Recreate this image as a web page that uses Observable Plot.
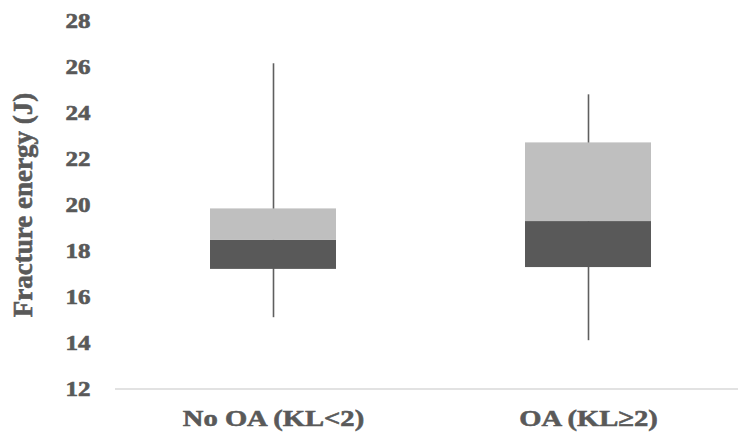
<!DOCTYPE html>
<html>
<head>
<meta charset="utf-8">
<script src="https://cdn.jsdelivr.net/npm/d3@7"></script>
<script src="https://cdn.jsdelivr.net/npm/@observablehq/plot@0.6"></script>
<style>
  html, body { margin: 0; padding: 0; background: #fff; }
  #chart svg { display: block; }
  #chart svg, #chart svg text { font-family: 'Liberation Serif', 'Times New Roman', serif !important; font-weight: 700 !important; }
  #chart svg text { stroke: #595959; stroke-width: 0.6px; }
</style>
</head>
<body>
<div id="chart"></div>
<script>
const categories = ["No OA (KL<2)", "OA (KL≥2)"];
const minValues = [15.1, 14.1];
const q1Values = [17.2, 17.28];
const medianValues = [18.46, 19.28];
const q3Values = [19.83, 22.7];
const maxValues = [26.14, 24.79];
const yTicks = [12, 14, 16, 18, 20, 22, 24, 26, 28];

const data = categories.map((c, i) => ({
  cat: c, min: minValues[i], q1: q1Values[i], med: medianValues[i], q3: q3Values[i], max: maxValues[i]
}));

const fontFamily = "'Liberation Serif', 'Times New Roman', serif";
const textColor = "#595959";

const chart = Plot.plot({
  width: 738,
  height: 442,
  marginTop: 20.5,
  marginBottom: 53.5,
  marginLeft: 115,
  marginRight: 0,
  style: { fontFamily, fontSize: "22px", fontWeight: "bold", color: textColor, background: "#fff" },
  x: { domain: categories, range: [115, 745], paddingInner: 0.6, paddingOuter: 0.3, label: null },
  y: { domain: [12, 28], ticks: yTicks, label: null },
  marks: [
    Plot.ruleY([12], { stroke: "#d9d9d9", strokeWidth: 1.5 }),
    Plot.ruleX(data, { x: "cat", y1: "min", y2: "max", stroke: "#5f5f5f", strokeWidth: 1.6 }),
    Plot.barY(data, { x: "cat", y1: "q1", y2: "med", fill: "#595959" }),
    Plot.barY(data, { x: "cat", y1: "med", y2: "q3", fill: "#bfbfbf" }),
    Plot.axisY({ ticks: yTicks, tickSize: 0, tickPadding: 25, fontSize: 21, fontWeight: "bold", fill: textColor, label: null }),
    Plot.axisX({ tickSize: 0, tickPadding: 20, fontSize: 24, fontWeight: "bold", fill: textColor, label: null }),
    Plot.text(["Fracture energy (J)"], {
      frameAnchor: "left", textAnchor: "middle", rotate: -90, fontSize: 27, fontWeight: "bold", fill: textColor,
      dx: -92, dy: 0
    })
  ]
});
document.getElementById("chart").appendChild(chart);

// Widen tick label glyphs horizontally to match the reference's proportions
function stretch(selector, factor) {
  chart.querySelectorAll(selector).forEach(t => {
    const len = t.getComputedTextLength();
    t.setAttribute("textLength", len * factor);
    t.setAttribute("lengthAdjust", "spacingAndGlyphs");
  });
}
stretch('g[aria-label="y-axis tick label"] text', 1.19);
stretch('g[aria-label="x-axis tick label"] text', 1.19);
</script>
</body>
</html>
